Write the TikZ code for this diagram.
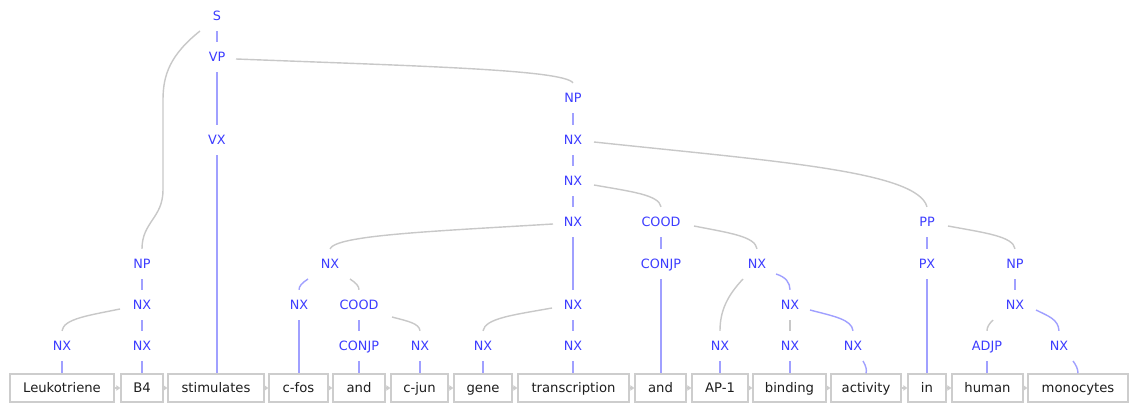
\documentclass[tikz,border=0pt]{standalone}
\usepackage{fontspec}
\setmainfont{DejaVu Sans}
\usetikzlibrary{calc,arrows.meta}

\definecolor{labblue}{RGB}{60,60,255}
\definecolor{headblue}{RGB}{160,160,255}
\definecolor{depgrey}{RGB}{200,200,200}
\definecolor{boxgrey}{RGB}{205,205,205}
\definecolor{wordink}{RGB}{30,30,30}

% smooth arc from a parent label down into a child label
\newcommand{\treearc}[3]{%
  \draw[#1] let \p1=#2, \p2=#3 in (\p1) .. controls
    ({\x1+0.55*(\x2-\x1)},{\y1+0.3*(\y2-\y1)}) and
    ({\x2-0.03*(\x2-\x1)},{\y1+0.45*(\y2-\y1)}) .. (\p2);}

\begin{document}
\begin{tikzpicture}[x=1pt,y=-1pt,
  lab/.style={text=labblue, font=\fontsize{12.8}{14}\selectfont, inner sep=0pt,
    minimum height=30pt, text height=9.4pt, text depth=0pt},
  wbox/.style={draw=boxgrey, line width=1.5pt, text=wordink,
    font=\fontsize{13.2}{15}\selectfont, inner sep=0pt,
    minimum height=28pt, text height=9.6pt, text depth=0pt},
  head/.style={draw=headblue, line width=1.4pt},
  dep/.style={draw=depgrey, line width=1.4pt},
  seq/.style={draw=boxgrey, line width=1pt, -{Triangle[length=4pt,width=5.5pt]}}]

\fill[white] (0,0) rectangle (1133,403);
\useasboundingbox (0,0) rectangle (1133,403);

% ---- word boxes ----
\node[wbox, minimum width=104pt] (w1)  at (62,388)    {Leukotriene};
\node[wbox, minimum width=42pt]  (w2)  at (142,388)   {B4};
\node[wbox, minimum width=96pt]  (w3)  at (216,388)   {stimulates};
\node[wbox, minimum width=59pt]  (w4)  at (298.5,388) {c-fos};
\node[wbox, minimum width=52pt]  (w5)  at (359,388)   {and};
\node[wbox, minimum width=57pt]  (w6)  at (419.5,388) {c-jun};
\node[wbox, minimum width=58pt]  (w7)  at (483,388)   {gene};
\node[wbox, minimum width=111pt] (w8)  at (573.5,388) {transcription};
\node[wbox, minimum width=51pt]  (w9)  at (660.5,388) {and};
\node[wbox, minimum width=56pt]  (w10) at (720,388)   {AP-1};
\node[wbox, minimum width=73pt]  (w11) at (789.5,388) {binding};
\node[wbox, minimum width=70pt]  (w12) at (866,388)   {activity};
\node[wbox, minimum width=38pt]  (w13) at (927,388)   {in};
\node[wbox, minimum width=71pt]  (w14) at (987.5,388) {human};
\node[wbox, minimum width=100pt] (w15) at (1078,388)  {monocytes};

\foreach \a/\b in {w1/w2,w2/w3,w3/w4,w4/w5,w5/w6,w6/w7,w7/w8,w8/w9,w9/w10,
                   w10/w11,w11/w12,w12/w13,w13/w14,w14/w15}
  \draw[seq] (\a.east) -- (\b.west);

% ---- phrase labels ----
\node[lab] (S)     at (217,16)  {S};
\node[lab] (VP)    at (217,57)  {VP};
\node[lab] (VX)    at (217,140) {VX};
\node[lab] (npA)   at (142,264) {NP};
\node[lab] (nxA)   at (142,305) {NX};
\node[lab] (nxL)   at (62,346)  {NX};
\node[lab] (nxM)   at (142,346) {NX};
\node[lab] (npB)   at (573,98)  {NP};
\node[lab] (nxB1)  at (573,140) {NX};
\node[lab] (nxB2)  at (573,181) {NX};
\node[lab] (nxB3)  at (573,222) {NX};
\node[lab] (cood)  at (661,222) {COOD};
\node[lab] (conjB) at (661,264) {CONJP};
\node[lab] (nxE)   at (757,264) {NX};
\node[lab] (nxC)   at (330,264) {NX};
\node[lab] (nxN)   at (299,305) {NX};
\node[lab] (coodA) at (359,305) {COOD};
\node[lab] (conjA) at (359,346) {CONJP};
\node[lab] (nxO)   at (420,346) {NX};
\node[lab] (nxD)   at (573,305) {NX};
\node[lab] (nxP)   at (483,346) {NX};
\node[lab] (nxQ)   at (573,346) {NX};
\node[lab] (nxF)   at (720,346) {NX};
\node[lab] (nxG)   at (790,305) {NX};
\node[lab] (nxH)   at (790,346) {NX};
\node[lab] (nxI)   at (853,346) {NX};
\node[lab] (pp)    at (927,222) {PP};
\node[lab] (px)    at (927,264) {PX};
\node[lab] (npC)   at (1015,264) {NP};
\node[lab] (nxJ)   at (1015,305) {NX};
\node[lab] (adjp)  at (987,346) {ADJP};
\node[lab] (nxK)   at (1059,346) {NX};

% ---- head links (blue) ----
\draw[head] (S.south) -- (VP.north);
\draw[head] (VP.south) -- (VX.north);
\draw[head] (VX.south) -- (VX.south |- w3.north);
\draw[head] (npA.south) -- (nxA.north);
\draw[head] (nxA.south) -- (nxM.north);
\draw[head] (nxL.south) -- (nxL.south |- w1.north);
\draw[head] (nxM.south) -- (nxM.south |- w2.north);
\draw[head] (npB.south) -- (nxB1.north);
\draw[head] (nxB1.south) -- (nxB2.north);
\draw[head] (nxB2.south) -- (nxB3.north);
\draw[head] (nxB3.south) -- (nxD.north);
\draw[head] (nxD.south) -- (nxQ.north);
\draw[head] (nxQ.south) -- (nxQ.south |- w8.north);
\draw[head] (nxP.south) -- (nxP.south |- w7.north);
\draw[head] (cood.south) -- (conjB.north);
\draw[head] (conjB.south) -- (conjB.south |- w9.north);
\draw[head] (nxN.south) -- (nxN.south |- w4.north);
\draw[head] (coodA.south) -- (conjA.north);
\draw[head] (conjA.south) -- (conjA.south |- w5.north);
\draw[head] (nxO.south) -- (nxO.south |- w6.north);
\draw[head] (nxF.south) -- (nxF.south |- w10.north);
\draw[head] (nxH.south) -- (nxH.south |- w11.north);
\draw[head] (pp.south) -- (px.north);
\draw[head] (px.south) -- (px.south |- w13.north);
\draw[head] (npC.south) -- (nxJ.north);
\draw[head] (adjp.south) -- (adjp.south |- w14.north);
\draw[head] ($(nxC)+(-22,15)$) .. controls ($(nxC)+(-28,19)$) and ($(nxC)+(-31,22)$) .. (nxN.north);
\draw[head] ($(nxE)+(19,10)$) .. controls ($(nxE)+(29,13)$) and ($(nxE)+(33,19)$) .. (nxG.north);
\treearc{head}{($(nxG)+(20,5)$)}{(nxI.north)}
\treearc{head}{($(nxJ)+(21,5)$)}{(nxK.north)}
\draw[head] ($(nxI)+(10,15)$) .. controls ($(nxI)+(13,20)$) and ($(nxI)+(14,24)$) .. (w12.north);
\draw[head] ($(nxK)+(14,15)$) .. controls ($(nxK)+(17,19)$) and ($(nxK)+(19,23)$) .. (w15.north);

% ---- dependent links (grey) ----
\draw[dep] ($(S)+(-17,15)$) .. controls (170,55) and (163,75) .. (163,100)
  -- (163,190) .. controls (163,218) and (142,222) .. (npA.north);
\treearc{dep}{($(VP)+(19,2)$)}{(npB.north)}
\treearc{dep}{($(nxB1)+(21,2)$)}{(pp.north)}
\treearc{dep}{($(nxB2)+(21,4)$)}{(cood.north)}
\treearc{dep}{($(nxB3)+(-20,2)$)}{(nxC.north)}
\treearc{dep}{($(cood)+(33,4)$)}{(nxE.north)}
\treearc{dep}{($(pp)+(21,4)$)}{(npC.north)}
\treearc{dep}{($(nxA)+(-22,4)$)}{(nxL.north)}
\treearc{dep}{($(coodA)+(33,12)$)}{(nxO.north)}
\treearc{dep}{($(nxD)+(-21,3)$)}{(nxP.north)}
\draw[dep] ($(nxE)+(-14,15)$) .. controls ($(nxE)+(-29,31)$) and ($(nxE)+(-37,46)$) .. (nxF.north);
\draw[dep] ($(nxC)+(20,15)$) .. controls ($(nxC)+(26,19)$) and ($(nxC)+(29,22)$) .. (coodA.north);
\draw[dep] (nxG.south) -- (nxH.north);
\draw[dep] ($(nxJ)+(-22,15)$) .. controls ($(nxJ)+(-26,19)$) and ($(nxJ)+(-28,22)$) .. (adjp.north);

\end{tikzpicture}
\end{document}
